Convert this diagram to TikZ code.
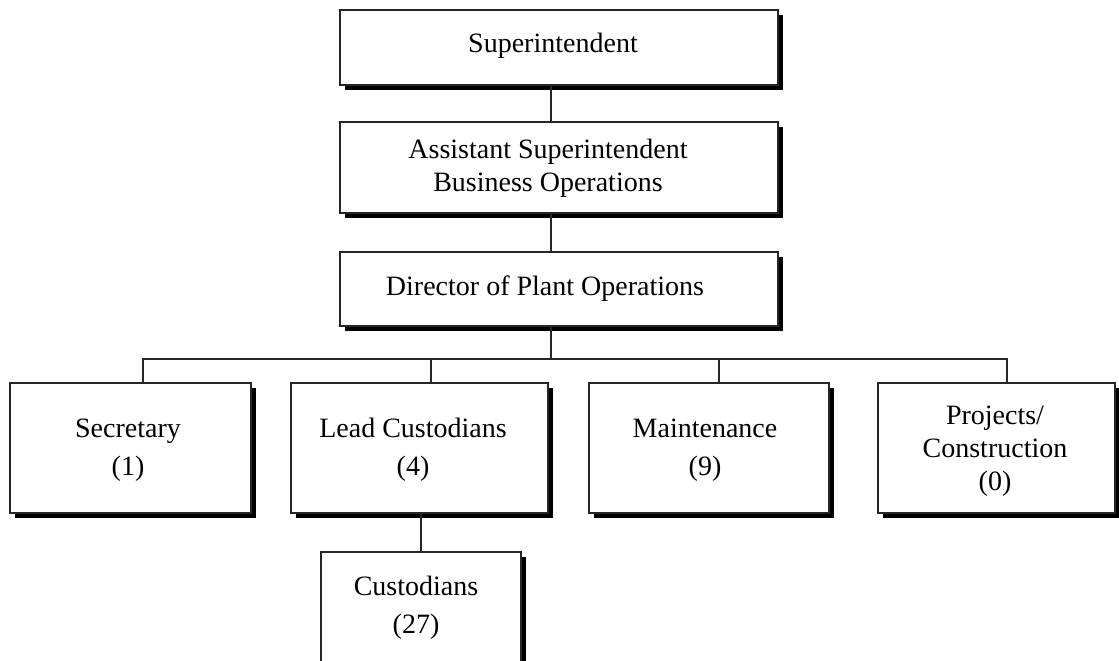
\documentclass[tikz,border=0pt]{standalone}
\usepackage{fontspec}
\setmainfont{Liberation Serif}
\usetikzlibrary{shadows}
\begin{document}
\begin{tikzpicture}[x=1pt,y=-1pt,
  box/.style={draw=black!85, line width=1.3pt, fill=white, rectangle, inner sep=0pt,
    drop shadow={shadow xshift=5pt, shadow yshift=-5pt, fill=black, opacity=1}},
  lbl/.style={align=center, inner sep=0pt, font=\fontsize{28}{33}\selectfont},
  lblwide/.style={align=center, inner sep=0pt, font=\fontsize{28}{38}\selectfont},
  conn/.style={draw=black!85, line width=1.3pt}]
\useasboundingbox (0,0) rectangle (1119,661);
\clip (0,0) rectangle (1119,661);
\fill[white] (0,0) rectangle (1119,661);
\node[box, minimum width=438pt, minimum height=75pt] (sup) at (559,47.5) {};
\node[box, minimum width=438pt, minimum height=91pt] (asst) at (559,167.5) {};
\node[box, minimum width=438pt, minimum height=74pt] (dir) at (559,289) {};
\node[box, minimum width=241pt, minimum height=130pt] (sec) at (130.5,448) {};
\node[box, minimum width=257pt, minimum height=130pt] (lead) at (419.5,448) {};
\node[box, minimum width=240pt, minimum height=130pt] (maint) at (709,448) {};
\node[box, minimum width=237pt, minimum height=130pt] (proj) at (996.5,448) {};
\node[box, minimum width=200pt, minimum height=112pt] (cust) at (421,608) {};
\node[lbl] (tsup) at (553,46) {Superintendent};
\node[lbl] (tasst) at (548,168) {Assistant Superintendent\\Business Operations};
\node[lbl] (tdir) at (545,289) {Director of Plant Operations};
\node[lblwide] (tsec) at (128,450) {Secretary\\(1)};
\node[lblwide] (tlead) at (413,450) {Lead Custodians\\(4)};
\node[lblwide] (tmaint) at (705,450) {Maintenance\\(9)};
\node[lbl] (tproj) at (995,451) {Projects/\\Construction\\(0)};
\node[lblwide] (tcust) at (416,608) {Custodians\\(27)};
\coordinate (busy) at (0,359);
\path ([xshift=-8pt]sup.south) coordinate (sS)
      ([xshift=-8pt]asst.north) coordinate (aN)
      ([xshift=-8pt]asst.south) coordinate (aS)
      ([xshift=-8pt]dir.north) coordinate (dN)
      ([xshift=-8pt]dir.south) coordinate (dS)
      ([xshift=12.5pt]sec.north) coordinate (secT)
      ([xshift=11.5pt]lead.north) coordinate (leadT)
      ([xshift=1.5pt]lead.south) coordinate (leadB)
      ([xshift=10pt]maint.north) coordinate (maintT)
      ([xshift=10.5pt]proj.north) coordinate (projT);
\draw[conn] (sS) -- (aN);
\draw[conn] (aS) -- (dN);
\draw[conn] (dS) -- (dS |- busy);
\draw[conn] (secT) |- (busy -| projT) -- (projT);
\draw[conn] (leadT) -- (leadT |- busy);
\draw[conn] (maintT) -- (maintT |- busy);
\draw[conn] (leadB) -- (cust.north);
\end{tikzpicture}
\end{document}
